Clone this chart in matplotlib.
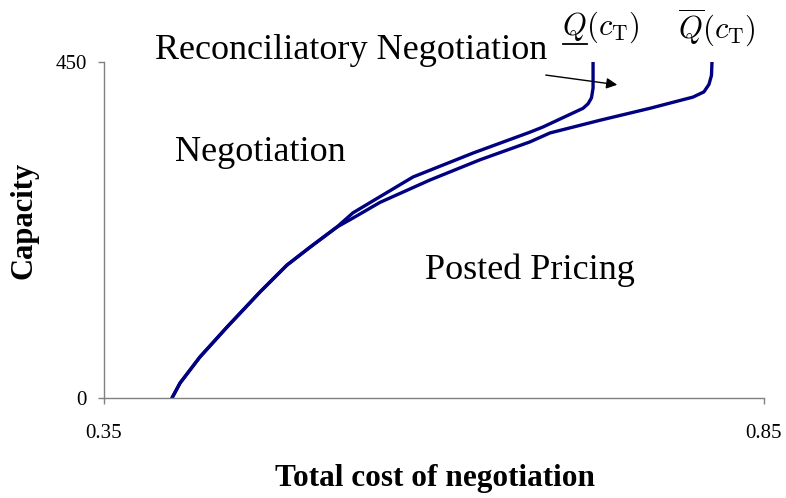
import matplotlib
matplotlib.use("Agg")
import matplotlib.pyplot as plt
from matplotlib.lines import Line2D

# --- data (cost, capacity) ---
# lower boundary Q_(c_T): ends around 0.72
q_under_cost = [0.4015, 0.4076, 0.4227, 0.4432, 0.4682, 0.4886, 0.5061, 0.5265,
                0.5386, 0.5841, 0.6295, 0.6727, 0.6826, 0.7129, 0.7167, 0.7193,
                0.7205, 0.7205]
q_under_cap = [0, 20, 55, 95, 142, 178, 202, 229,
               248, 296, 328, 356, 363, 388, 394, 402, 415, 450]

# upper boundary Q-bar(c_T): ends around 0.81
q_over_cost = [0.4015, 0.4076, 0.4227, 0.4432, 0.4682, 0.4886, 0.5061, 0.5265,
               0.5386, 0.5591, 0.5970, 0.6348, 0.6727, 0.6879, 0.7258, 0.7636,
               0.7962, 0.8045, 0.8083, 0.8102, 0.8106]
q_over_cap = [0, 20, 55, 95, 142, 178, 202, 229,
              241, 262, 292, 319, 343, 355, 372, 388,
              403, 410, 420, 432, 450]

x_ticks = [0.35, 0.85]
y_ticks = [0, 450]

plt.rcParams['font.family'] = ['Liberation Serif', 'DejaVu Serif']
plt.rcParams['mathtext.fontset'] = 'cm'

fig = plt.figure(figsize=(7.86, 4.98), dpi=100)
ax = fig.add_axes([104 / 786, 100 / 498, 660 / 786, 336 / 498])

line_color = '#000080'
ax.plot(q_under_cost, q_under_cap, color=line_color, lw=2.4, solid_capstyle='round')
ax.plot(q_over_cost, q_over_cap, color=line_color, lw=2.4, solid_capstyle='round')

ax.set_xlim(0.35, 0.85)
ax.set_ylim(0, 450)
ax.set_xticks(x_ticks)
ax.set_xticklabels(['0.35', '0.85'])
ax.set_yticks(y_ticks)
ax.set_yticklabels(['0', '450'])

for side in ['top', 'right']:
    ax.spines[side].set_visible(False)
for side in ['left', 'bottom']:
    ax.spines[side].set_color('#808080')
    ax.spines[side].set_linewidth(1.0)
ax.tick_params(axis='both', colors='#808080', labelcolor='black', length=4.5,
               width=1.0, labelsize=15)
ax.tick_params(axis='x', pad=14)
ax.tick_params(axis='y', pad=8)

ax.set_xlabel('Total cost of negotiation', fontsize=22.5, fontweight='bold')
ax.xaxis.set_label_coords(0.5015, -0.196)
ax.set_ylabel('Capacity', fontsize=22, fontweight='bold')
ax.yaxis.set_label_coords(-0.0985, 0.527)

# region labels
ax.text(0.3886, 466, 'Reconciliatory Negotiation', fontsize=26, va='center', clip_on=False)
ax.text(0.4038, 329, 'Negotiation', fontsize=26, va='center')
ax.text(0.5932, 171, 'Posted Pricing', fontsize=26, va='center')

q_low = ax.text(0.697, 496, r'$Q(c_{\mathrm{T}})$', fontsize=22, va='center', clip_on=False)
ax.text(0.7848, 496, r'$\overline{Q}(c_{\mathrm{T}})$', fontsize=22, va='center', clip_on=False)

ax.annotate('', xy=(0.7409, 419), xytext=(0.6826, 433),
            arrowprops=dict(arrowstyle='-|>', color='black', lw=1.0, mutation_scale=16))

# mathtext has no \underline: draw the bar under the Q by hand
fig.canvas.draw()
bb = q_low.get_window_extent()
W, H = fig.bbox.width, fig.bbox.height
x0 = bb.x0 + 1
x1 = bb.x0 + 0.32 * bb.width
yb = bb.y0 + 1
fig.add_artist(Line2D([x0 / W, x1 / W], [yb / H, yb / H], transform=fig.transFigure,
                      color='black', lw=1.3))

fig.savefig('out.png', dpi=100)
